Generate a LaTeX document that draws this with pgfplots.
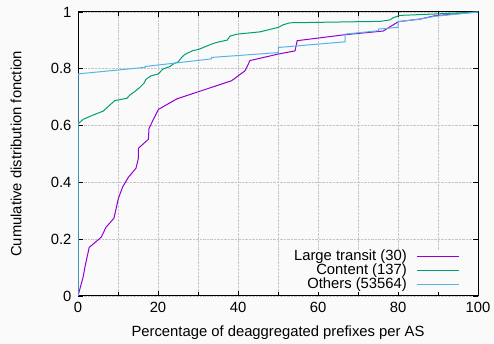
\documentclass[border=0pt]{standalone}
\usepackage{fontspec}
\setmainfont{Liberation Sans}
\usepackage{pgfplots}
\pgfplotsset{compat=1.18}
\definecolor{bgc}{HTML}{FAFAFA}
\definecolor{cpurple}{HTML}{9400D3}
\definecolor{cgreen}{HTML}{009E73}
\definecolor{cblue}{HTML}{56B4E9}
\begin{document}
\begin{tikzpicture}
\fill[bgc] (-78pt,-48pt) rectangle (416pt,296pt);
\begin{axis}[
  at={(0,0)}, anchor=south west,
  scale only axis, width=400pt, height=284pt,
  xmin=0, xmax=100, ymin=0, ymax=1,
  xtick={0,20,40,60,80,100},
  minor xtick={10,30,50,70,90},
  ytick={0,0.2,0.4,0.6,0.8,1},
  yticklabels={0,0.2,0.4,0.6,0.8,1},
  grid=both,
  major grid style={densely dotted, gray!45, line width=0.6pt},
  minor grid style={densely dotted, gray!45, line width=0.6pt},
  tick align=inside,
  major tick length=5pt, minor tick length=4pt,
  tick style={black, line width=0.9pt},
  axis line style={black, line width=1pt},
  /pgf/number format/assume math mode=true,
  font=\fontsize{14.8}{16}\selectfont,
  ticklabel style={font=\fontsize{14.8}{16}\selectfont},
  xticklabel style={yshift=-3pt},
  yticklabel style={xshift=-3pt},
  xlabel={Percentage of deaggregated prefixes per AS},
  ylabel={Cumulative distribution fonction},
  xlabel style={at={(axis description cs:0.5,-0.130)}, anchor=center},
  ylabel style={at={(axis description cs:-0.155,0.5)}, anchor=center},
  legend style={at={(axis cs:95.5,0.015)}, anchor=south east, draw=none, fill=bgc,
    font=\fontsize{14.8}{15}\selectfont, row sep=0.5pt, inner sep=0pt,
    nodes={inner sep=0pt, text height=10.5pt, text depth=3pt}},
  legend cell align=right,
  legend plot pos=right,
  legend image code/.code={\path (0pt,0pt); \draw[line width=1pt] (10pt,0pt) -- (52pt,0pt);},
]
\addplot[cpurple, line width=1pt] coordinates {
(0,0) (1.3,0.068) (1.75,0.103) (2.8,0.171) (5.8,0.207) (7,0.242) (9,0.274)
(10.1,0.344) (11.2,0.385) (12.6,0.418) (14.5,0.45) (15.1,0.485) (15.1,0.52)
(17.6,0.552) (17.75,0.59) (20.1,0.657) (24.7,0.694) (38.4,0.758) (41.75,0.793)
(43,0.829) (50.1,0.852) (54.25,0.863) (54.8,0.899) (66.75,0.92) (76.3,0.933)
(80.1,0.966) (85.5,0.975) (89.3,0.987) (100,1)};
\addlegendentry{Large transit (30)}
\addplot[cgreen, line width=1pt] coordinates {
(0,0) (0,0.606) (1.3,0.622) (3.4,0.635) (6.3,0.651) (8.4,0.678) (9.2,0.688)
(12.2,0.696) (13,0.708) (14.2,0.72) (15.5,0.735) (16.5,0.749) (17,0.763)
(18.2,0.775) (20.1,0.782) (21.2,0.799) (23,0.808) (23.8,0.817) (25.1,0.825)
(25.9,0.84) (26.75,0.851) (28.7,0.864) (30.1,0.868) (33.4,0.887) (34.7,0.893)
(37.3,0.901) (38,0.915) (39.7,0.922) (45.5,0.93) (50.1,0.946) (51.3,0.955)
(53,0.962) (75.5,0.967) (78,0.972) (78.8,0.98) (80.5,0.988) (89.3,0.993) (100,1)};
\addlegendentry{Content (137)}
\addplot[cblue, line width=1pt] coordinates {
(0,0) (0,0.782) (16.75,0.805) (16.75,0.808) (33.4,0.835) (33.4,0.84)
(50.1,0.857) (50.1,0.875) (66.75,0.895) (66.75,0.922) (75.1,0.934) (75.1,0.94)
(80,0.946) (80,0.966) (85.5,0.975) (89.3,0.985) (100,1)};
\addlegendentry{Others (53564)}
\end{axis}
\end{tikzpicture}
\end{document}
